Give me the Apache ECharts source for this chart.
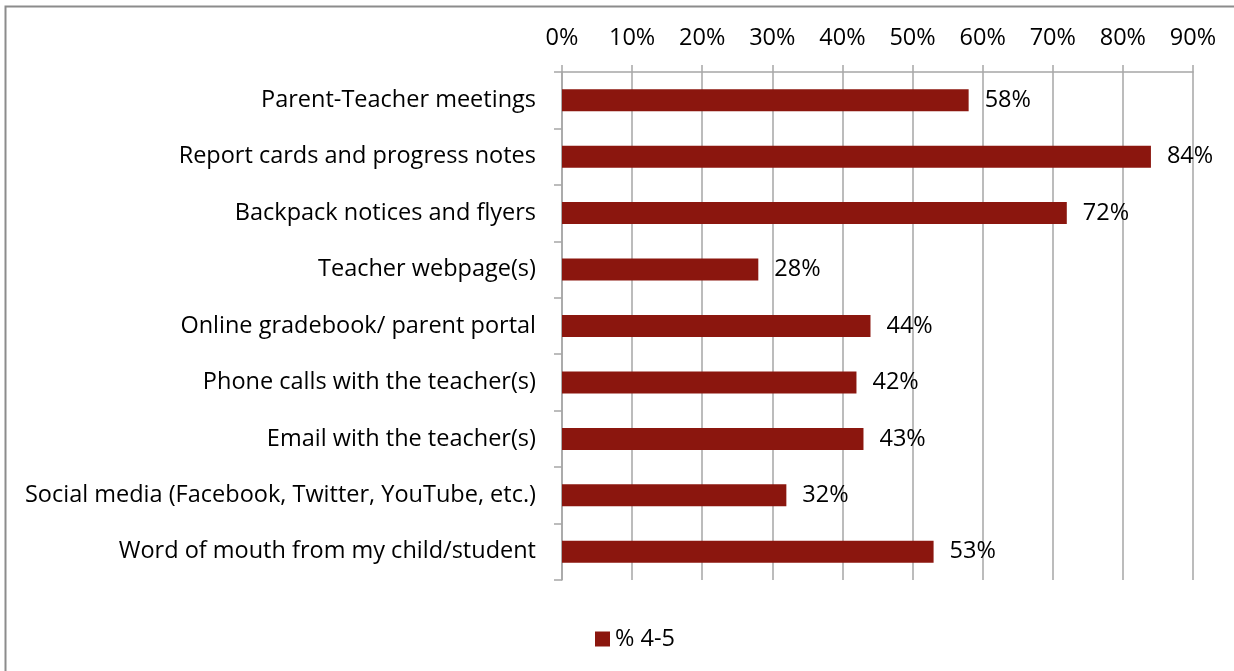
<!DOCTYPE html>
<html>
<head>
<meta charset="utf-8">
<script src="https://cdn.jsdelivr.net/npm/echarts@6/dist/echarts.min.js"></script>
<style>
  html, body { margin: 0; padding: 0; background: #fff; }
  #chart { width: 1234px; height: 671px; }
</style>
</head>
<body>
<div id="chart"></div>
<script>
// Communication channels rated 4-5
const categories = [
  'Parent-Teacher meetings',
  'Report cards and progress notes',
  'Backpack notices and flyers',
  'Teacher webpage(s)',
  'Online gradebook/ parent portal',
  'Phone calls with the teacher(s)',
  'Email with the teacher(s)',
  'Social media (Facebook, Twitter, YouTube, etc.)',
  'Word of mouth from my child/student'
];
const seriesName = '% 4-5';
const values = [58, 84, 72, 28, 44, 42, 43, 32, 53];
const axisTicks = [0, 10, 20, 30, 40, 50, 60, 70, 80, 90];

const FONT = '"Open Sans", "Noto Sans", sans-serif';
const FONT_SIZE = 23.5;
const GRID_COLOR = '#a6a6a6';
const BAR_COLOR = '#8b160e';

const chart = echarts.init(document.getElementById('chart'));
chart.setOption({
  animation: false,
  backgroundColor: '#fff',
  graphic: [{
    type: 'polyline',
    shape: { points: [[5.5, 700], [5.5, 6.5], [1300, 6.5]] },
    style: { stroke: '#8c8c8c', lineWidth: 2, fill: null },
    silent: true
  }],
  grid: { left: 562, right: 41, top: 72, bottom: 91 },
  legend: {
    data: [{ name: seriesName, icon: 'rect' }],
    top: 622,
    left: 590,
    itemWidth: 15,
    itemHeight: 15,
    itemGap: 6,
    textStyle: { fontFamily: FONT, fontSize: FONT_SIZE, color: '#000', lineHeight: 24 }
  },
  xAxis: {
    type: 'value',
    position: 'top',
    min: axisTicks[0],
    max: axisTicks[axisTicks.length - 1],
    interval: 10,
    axisLine: { show: true, lineStyle: { color: GRID_COLOR, width: 1.5 } },
    axisTick: { show: true, length: 7, lineStyle: { color: GRID_COLOR, width: 1.5 } },
    splitLine: { show: true, lineStyle: { color: GRID_COLOR, width: 1.5 } },
    axisLabel: {
      formatter: v => v + '%',
      fontFamily: FONT, fontSize: FONT_SIZE, color: '#000', margin: 22
    }
  },
  yAxis: {
    type: 'category',
    inverse: true,
    data: categories,
    axisLine: { show: true, lineStyle: { color: GRID_COLOR, width: 1.5 } },
    axisTick: { show: true, length: 8, lineStyle: { color: GRID_COLOR, width: 1.5 } },
    axisLabel: { fontFamily: FONT, fontSize: FONT_SIZE, color: '#000', margin: 26, padding: [3, 0, 0, 0] }
  },
  series: [{
    name: seriesName,
    type: 'bar',
    data: values,
    barWidth: 22,
    itemStyle: { color: BAR_COLOR },
    label: {
      show: true,
      position: 'right',
      distance: 16,
      formatter: p => p.value + '%',
      fontFamily: FONT, fontSize: FONT_SIZE, color: '#000'
    }
  }]
});
</script>
</body>
</html>
